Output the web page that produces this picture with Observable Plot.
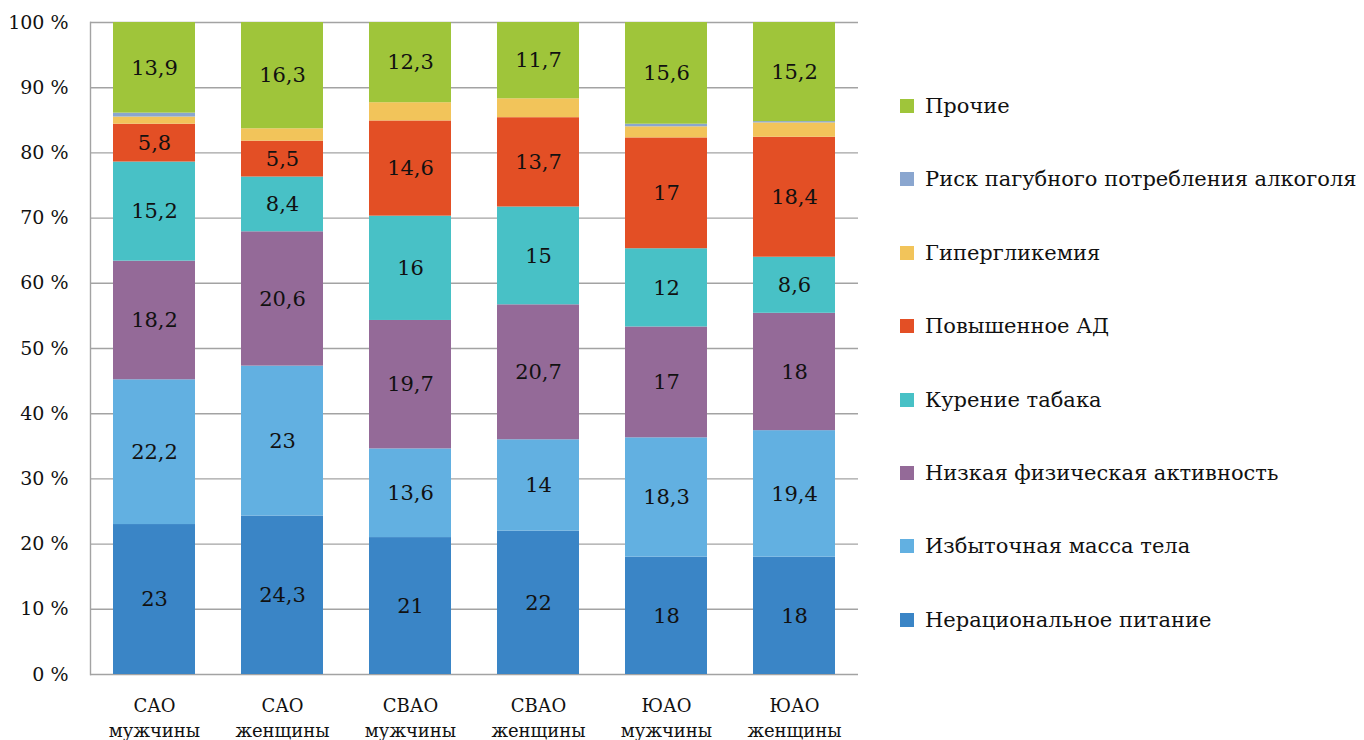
<!DOCTYPE html>
<html lang="ru">
<head>
<meta charset="utf-8">
<script src="https://cdn.jsdelivr.net/npm/d3@7"></script>
<script src="https://cdn.jsdelivr.net/npm/@observablehq/plot@0.6"></script>
<style>
  html, body { margin: 0; padding: 0; background: #fff; }
  #chart { position: relative; width: 1364px; height: 740px; overflow: hidden; font-family: "DejaVu Serif", serif; }
  #legend { position: absolute; left: 900px; top: 69.3px; display: flex; flex-direction: column; }
  .item { display: flex; align-items: center; height: 73.4px; font-size: 21px; color: #111; white-space: nowrap; }
  .swatch { width: 14px; height: 14px; margin-right: 11px; flex: none; }
</style>
</head>
<body>
<div id="chart"><div id="legend"></div></div>
<script>
// Группы: округ и пол
const districts = ["САО", "САО", "СВАО", "СВАО", "ЮАО", "ЮАО"];
const sexes = ["мужчины", "женщины", "мужчины", "женщины", "мужчины", "женщины"];

// Факторы риска, снизу вверх в столбце
const factors = [
  "Нерациональное питание",
  "Избыточная масса тела",
  "Низкая физическая активность",
  "Курение табака",
  "Повышенное АД",
  "Гипергликемия",
  "Риск пагубного потребления алкоголя",
  "Прочие"
];
const colors = ["#3a85c6", "#62b0e1", "#946a98", "#48c1c6", "#e34f25", "#f2c45a", "#8aa6cf", "#9fc53a"];

// Доли факторов, %
const nutrition     = [23, 24.3, 21, 22, 18, 18];
const overweight    = [22.2, 23, 13.6, 14, 18.3, 19.4];
const inactivity    = [18.2, 20.6, 19.7, 20.7, 17, 18];
const smoking       = [15.2, 8.4, 16, 15, 12, 8.6];
const pressure      = [5.8, 5.5, 14.6, 13.7, 17, 18.4];
const hyperglycemia = [1.1, 1.9, 2.8, 2.9, 1.7, 2.2];
const alcohol       = [0.6, 0, 0, 0, 0.4, 0.2];
const other         = [13.9, 16.3, 12.3, 11.7, 15.6, 15.2];

const yTicks = [0, 10, 20, 30, 40, 50, 60, 70, 80, 90, 100];

const series = [nutrition, overweight, inactivity, smoking, pressure, hyperglycemia, alcohol, other];
const labelled = new Set(["Нерациональное питание", "Избыточная масса тела", "Низкая физическая активность", "Курение табака", "Повышенное АД", "Прочие"]);
const groups = districts.map((d, i) => d + "\n" + sexes[i]);

const rows = [];
series.forEach((vals, f) => vals.forEach((v, g) => rows.push({group: groups[g], factor: factors[f], value: v})));

const fmt = v => String(v).replace(".", ",");

const plot = Plot.plot({
  width: 1364,
  height: 740,
  marginLeft: 90,
  marginRight: 506,
  marginTop: 22,
  marginBottom: 66,
  style: {fontFamily: "DejaVu Serif", background: "#fff", color: "#111"},
  x: {domain: groups, paddingInner: 0.36, paddingOuter: 0.18, label: null},
  y: {domain: [0, 100], label: null},
  color: {domain: factors, range: colors},
  marks: [
    Plot.ruleY(yTicks, {stroke: "#a3a3a3", strokeWidth: 1.4}),
    Plot.frame({anchor: "left", stroke: "#a3a3a3", strokeWidth: 1.4}),
    Plot.barY(rows, Plot.stackY({x: "group", y: "value", z: "factor", fill: "factor", order: factors})),
    Plot.text(rows, Plot.stackY({
      x: "group", y: "value", z: "factor", order: factors,
      text: d => labelled.has(d.factor) ? fmt(d.value) : null,
      fontSize: 21, fill: "#111"
    })),
    Plot.axisY(yTicks, {tickSize: 0, tickPadding: 22, fontSize: 19, tickFormat: d => d + " %", label: null}),
    Plot.axisX({tickSize: 0, tickPadding: 20, fontSize: 18, lineHeight: 1.38, label: null})
  ]
});

const chart = document.getElementById("chart");
chart.insertBefore(plot, chart.firstChild);

const legend = d3.select("#legend");
factors.slice().reverse().forEach(f => {
  const item = legend.append("div").attr("class", "item");
  item.append("div").attr("class", "swatch").style("background", colors[factors.indexOf(f)]);
  item.append("span").text(f);
});
</script>
</body>
</html>
